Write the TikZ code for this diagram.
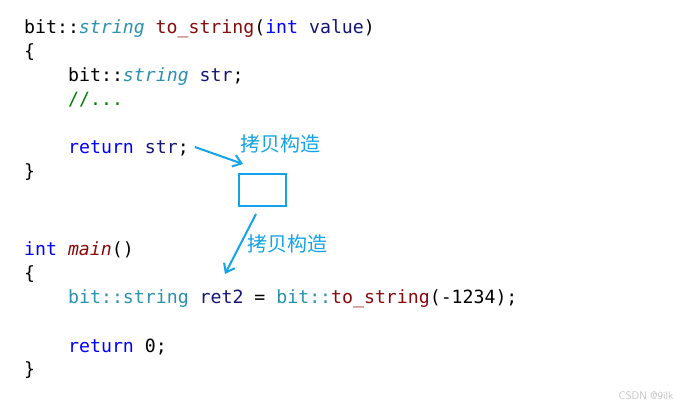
\documentclass[tikz,border=0pt]{standalone}
\usepackage{fontspec}
\usetikzlibrary{arrows.meta}

\newfontfamily\codefont{DejaVu Sans Mono}
\newfontfamily\cnfont{Noto Sans CJK SC}

% code colours
\definecolor{typeclr}{RGB}{43,145,175}
\definecolor{funcclr}{RGB}{136,10,10}
\definecolor{kwclr}{RGB}{0,0,255}
\definecolor{varclr}{RGB}{20,20,120}
\definecolor{comclr}{RGB}{0,128,0}
\definecolor{annoclr}{RGB}{20,163,232}
\definecolor{markclr}{RGB}{195,195,195}

\newcommand{\ctype}[1]{\textcolor{typeclr}{#1}}
\newcommand{\cfunc}[1]{\textcolor{funcclr}{#1}}
\newcommand{\ckw}[1]{\textcolor{kwclr}{#1}}
\newcommand{\cvar}[1]{\textcolor{varclr}{#1}}
\newcommand{\ccom}[1]{\textcolor{comclr}{#1}}

\tikzset{
  code/.style={anchor=base west, inner sep=0pt, font=\codefont\fontsize{18.2}{24}\selectfont},
  anno/.style={annoclr, font=\cnfont\fontsize{20}{24}\selectfont, inner sep=0pt},
  annoline/.style={annoclr, line width=2pt, -{Straight Barb[length=8pt,width=12pt,line width=2pt]}},
}

\begin{document}
\begin{tikzpicture}[x=1pt, y=-1pt]

  % Picture frame
  \useasboundingbox (0,0) rectangle (690,410);

  % Function to_string
  \node[code] (l1) at (24,33) {bit::\ctype{\textit{string}} \cfunc{to\_string}(\ckw{int} \cvar{value})};
  \node[code] (l2) at (24,57) {\{};
  \node[code] (l3) at (68,81) {bit::\ctype{\textit{string}} \cvar{str};};
  \node[code] (l4) at (68,105) {\ccom{//...}};
  \node[code] (l5) at (68,153) {\ckw{return} \cvar{str};};
  \node[code] (l6) at (24,177) {\}};

  % Function main
  \node[code] (l7) at (24,255) {\ckw{int} \cfunc{\textit{main}}()};
  \node[code] (l8) at (24,279) {\{};
  \node[code] (l9) at (68,303) {\ctype{bit::string} \cvar{ret2} = \ctype{bit::}\cfunc{to\_string}(-1234);};
  \node[code] (l10) at (68,352) {\ckw{return} 0;};
  \node[code] (l11) at (24,375) {\}};

  % Temporary object and copies
  \node[draw=annoclr, line width=2pt, minimum width=47pt, minimum height=32pt, inner sep=0pt] (tmp) at (262.5,190) {};
  \node[anno] (copy1) at (280,144) {拷贝构造};
  \node[anno] (copy2) at (287,244) {拷贝构造};

  \draw[annoline] ([xshift=6pt,yshift=6pt]l5.base east) -- ([xshift=5pt,yshift=9pt]tmp.north west);
  \draw[annoline] ([xshift=-6.5pt,yshift=-7pt]tmp.south) -- ([xshift=157pt,yshift=29pt]l9.base west);

  % Watermark
  \node[markclr, font=\sffamily\fontsize{11}{13}\selectfont, inner sep=0pt] (mark) at (646,396) {CSDN @9ilk};

\end{tikzpicture}
\end{document}
